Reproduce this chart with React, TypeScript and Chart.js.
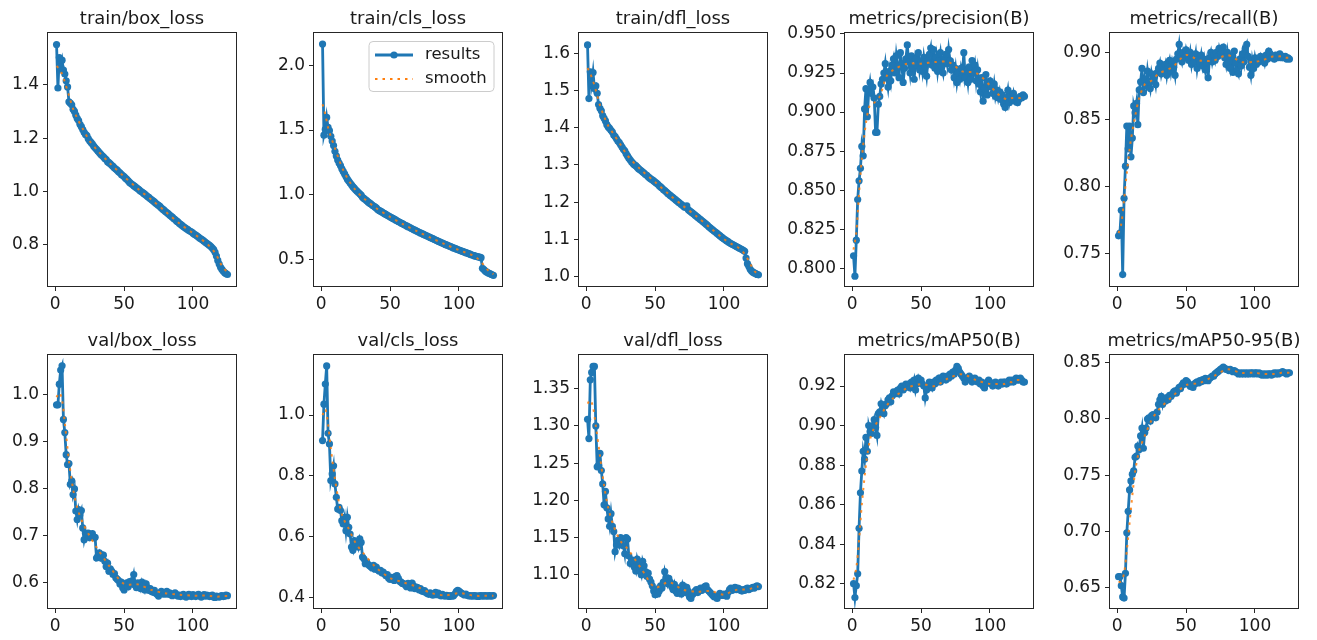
import React, { useEffect, useRef } from "react";
import { Chart, registerables } from "chart.js";

Chart.register(...registerables);

// ---------------- data ----------------
const X_TICKS = [0, 50, 100];
const LEGEND_LABELS = ["results", "smooth"];

const TRAIN_BOX_LOSS = [
  1.551, 1.388, 1.502, 1.468, 1.492, 1.455, 1.44, 1.415, 1.392, 1.336,
  1.331, 1.325, 1.308, 1.3, 1.286, 1.274, 1.266, 1.252, 1.243, 1.232,
  1.222, 1.214, 1.21, 1.198, 1.19, 1.184, 1.178, 1.17, 1.164, 1.158,
  1.152, 1.146, 1.14, 1.135, 1.13, 1.124, 1.12, 1.112, 1.108, 1.104,
  1.098, 1.094, 1.088, 1.084, 1.08, 1.074, 1.07, 1.064, 1.06, 1.056,
  1.05, 1.046, 1.04, 1.034, 1.03, 1.026, 1.022, 1.018, 1.014, 1.01,
  1.006, 1.001, 0.998, 0.994, 0.99, 0.986, 0.981, 0.978, 0.973, 0.969,
  0.965, 0.961, 0.956, 0.952, 0.948, 0.944, 0.938, 0.934, 0.93, 0.925,
  0.921, 0.917, 0.912, 0.908, 0.904, 0.899, 0.895, 0.89, 0.886, 0.881,
  0.877, 0.873, 0.869, 0.865, 0.861, 0.858, 0.854, 0.851, 0.848, 0.844,
  0.84, 0.837, 0.833, 0.829, 0.825, 0.822, 0.818, 0.814, 0.81, 0.806,
  0.802, 0.798, 0.794, 0.788, 0.782, 0.772, 0.758, 0.742, 0.728, 0.716,
  0.708, 0.701, 0.696, 0.692, 0.689,
];

const TRAIN_CLS_LOSS = [
  2.165, 1.46, 1.505, 1.598, 1.52, 1.495, 1.452, 1.415, 1.38, 1.335,
  1.3, 1.268, 1.245, 1.225, 1.2, 1.18, 1.16, 1.14, 1.12, 1.105,
  1.09, 1.076, 1.062, 1.05, 1.038, 1.027, 1.016, 1.006, 0.996, 0.98,
  0.971, 0.962, 0.953, 0.944, 0.936, 0.928, 0.92, 0.912, 0.905, 0.897,
  0.885, 0.878, 0.872, 0.866, 0.859, 0.853, 0.847, 0.84, 0.834, 0.828,
  0.822, 0.816, 0.81, 0.804, 0.798, 0.792, 0.786, 0.78, 0.775, 0.769,
  0.763, 0.758, 0.752, 0.747, 0.741, 0.736, 0.73, 0.725, 0.72, 0.714,
  0.709, 0.704, 0.699, 0.694, 0.689, 0.684, 0.679, 0.674, 0.669, 0.664,
  0.659, 0.654, 0.649, 0.644, 0.639, 0.634, 0.629, 0.625, 0.62, 0.615,
  0.611, 0.606, 0.602, 0.597, 0.593, 0.588, 0.584, 0.58, 0.575, 0.571,
  0.567, 0.563, 0.559, 0.555, 0.551, 0.547, 0.543, 0.539, 0.535, 0.531,
  0.528, 0.524, 0.521, 0.518, 0.516, 0.512, 0.43, 0.42, 0.41, 0.402,
  0.395, 0.39, 0.385, 0.38, 0.376,
];

const TRAIN_DFL_LOSS = [
  1.622, 1.478, 1.55, 1.518, 1.548, 1.505, 1.512, 1.492, 1.462, 1.452,
  1.445, 1.432, 1.425, 1.418, 1.408, 1.402, 1.398, 1.393, 1.388, 1.38,
  1.376, 1.37, 1.364, 1.36, 1.354, 1.348, 1.342, 1.338, 1.33, 1.324,
  1.318, 1.313, 1.308, 1.304, 1.3, 1.298, 1.294, 1.29, 1.287, 1.284,
  1.281, 1.278, 1.274, 1.272, 1.268, 1.265, 1.262, 1.26, 1.257, 1.254,
  1.251, 1.248, 1.244, 1.241, 1.238, 1.234, 1.231, 1.228, 1.224, 1.221,
  1.218, 1.215, 1.212, 1.209, 1.206, 1.203, 1.2, 1.197, 1.194, 1.191,
  1.188, 1.186, 1.19, 1.18, 1.177, 1.174, 1.171, 1.168, 1.165, 1.162,
  1.159, 1.156, 1.153, 1.15, 1.147, 1.144, 1.141, 1.138, 1.134, 1.131,
  1.128, 1.125, 1.122, 1.119, 1.116, 1.113, 1.11, 1.107, 1.104, 1.101,
  1.099, 1.096, 1.094, 1.091, 1.089, 1.087, 1.085, 1.083, 1.081, 1.079,
  1.077, 1.075, 1.073, 1.071, 1.068, 1.05, 1.035, 1.028, 1.02, 1.015,
  1.012, 1.01, 1.008, 1.006, 1.005,
];

const PRECISION = [
  0.808, 0.795, 0.818, 0.844, 0.856, 0.864, 0.878, 0.872, 0.902, 0.915,
  0.897, 0.913, 0.919, 0.912, 0.916, 0.909, 0.887, 0.887, 0.905, 0.91,
  0.918, 0.921, 0.925, 0.931, 0.922, 0.916, 0.926, 0.92, 0.93, 0.934,
  0.925, 0.936, 0.929, 0.922, 0.938, 0.931, 0.919, 0.928, 0.934, 0.943,
  0.932, 0.925, 0.936, 0.928, 0.921, 0.934, 0.93, 0.938, 0.927, 0.932,
  0.926, 0.935, 0.929, 0.923, 0.933, 0.937, 0.941, 0.93, 0.94, 0.928,
  0.935, 0.926, 0.933, 0.938, 0.929, 0.925, 0.934, 0.937, 0.931, 0.94,
  0.933, 0.927, 0.93, 0.922, 0.928, 0.919, 0.925, 0.921, 0.928, 0.924,
  0.938, 0.922, 0.926, 0.919, 0.929, 0.921, 0.933, 0.925, 0.93, 0.92,
  0.927, 0.918, 0.913, 0.922, 0.907, 0.915, 0.924, 0.911, 0.918, 0.92,
  0.916, 0.912, 0.918, 0.91, 0.914, 0.909, 0.913, 0.908, 0.911, 0.905,
  0.903, 0.909, 0.914, 0.906, 0.91, 0.908, 0.912, 0.907, 0.909, 0.906,
  0.908, 0.91, 0.909, 0.911, 0.91,
];

const RECALL = [
  0.763, 0.765, 0.782, 0.734, 0.791, 0.815, 0.845, 0.828, 0.845, 0.822,
  0.836, 0.86, 0.855, 0.862, 0.846, 0.872, 0.878, 0.888, 0.87, 0.88,
  0.875, 0.886, 0.878, 0.873, 0.884, 0.879, 0.882, 0.876, 0.885, 0.888,
  0.892, 0.884, 0.889, 0.887, 0.891, 0.883, 0.89, 0.894, 0.886, 0.893,
  0.889, 0.883, 0.895, 0.899, 0.906, 0.897, 0.893, 0.9, 0.896, 0.902,
  0.898, 0.894, 0.9, 0.891, 0.897, 0.893, 0.899, 0.888, 0.895, 0.892,
  0.898, 0.89, 0.895, 0.887, 0.893, 0.881, 0.896, 0.9, 0.893, 0.898,
  0.894, 0.9, 0.897, 0.903, 0.899, 0.902, 0.904, 0.896, 0.891, 0.9,
  0.893, 0.888, 0.897, 0.885, 0.901, 0.892, 0.887, 0.884, 0.895, 0.89,
  0.899, 0.893, 0.903, 0.906, 0.897, 0.889, 0.883, 0.894, 0.888, 0.896,
  0.891, 0.895, 0.893, 0.897, 0.894, 0.896, 0.892, 0.898, 0.895, 0.901,
  0.899, 0.896, 0.897, 0.895, 0.898, 0.896, 0.897, 0.899, 0.896, 0.897,
  0.896, 0.897, 0.895, 0.896, 0.895,
];

const VAL_BOX_LOSS = [
  0.979, 0.979, 1.023, 1.053, 1.062, 0.948, 0.92, 0.873, 0.852, 0.854,
  0.81, 0.817, 0.788, 0.8, 0.753, 0.735, 0.756, 0.745, 0.754, 0.717,
  0.692, 0.706, 0.703, 0.706, 0.696, 0.7, 0.705, 0.696, 0.697, 0.653,
  0.657, 0.664, 0.653, 0.66, 0.659, 0.646, 0.635, 0.642, 0.625, 0.63,
  0.625, 0.618, 0.62, 0.611, 0.608, 0.605, 0.598, 0.602, 0.59, 0.585,
  0.596, 0.6, 0.592, 0.603, 0.598, 0.605, 0.618, 0.595, 0.59, 0.6,
  0.596, 0.588, 0.602, 0.594, 0.585, 0.598, 0.59, 0.584, 0.588, 0.582,
  0.58, 0.584, 0.578, 0.576, 0.572, 0.578, 0.582, 0.58, 0.576, 0.578,
  0.582, 0.576, 0.579, 0.575, 0.573, 0.577, 0.579, 0.575, 0.572, 0.574,
  0.571, 0.573, 0.576, 0.572, 0.57, 0.574, 0.576, 0.572, 0.571, 0.575,
  0.573, 0.571, 0.574, 0.576, 0.572, 0.57, 0.573, 0.575, 0.572, 0.574,
  0.573, 0.571, 0.572, 0.574, 0.57, 0.569, 0.572, 0.571, 0.57, 0.572,
  0.573, 0.571, 0.572, 0.574, 0.573,
];

const VAL_CLS_LOSS = [
  0.916, 1.036, 1.102, 1.162, 0.94, 0.905, 0.784, 0.806, 0.833, 0.773,
  0.729, 0.69, 0.696, 0.685, 0.652, 0.641, 0.663, 0.619, 0.663, 0.63,
  0.608, 0.565, 0.554, 0.586, 0.575, 0.58, 0.565, 0.592, 0.58, 0.532,
  0.526, 0.51, 0.515, 0.508, 0.504, 0.5, 0.496, 0.505, 0.492, 0.499,
  0.49, 0.486, 0.488, 0.48, 0.482, 0.476, 0.47, 0.474, 0.462, 0.458,
  0.465, 0.46, 0.455, 0.468, 0.471, 0.462, 0.452, 0.449, 0.445, 0.444,
  0.44, 0.434, 0.445, 0.438, 0.43, 0.446, 0.437, 0.428, 0.433, 0.431,
  0.424, 0.428, 0.42, 0.418, 0.421, 0.415, 0.412, 0.409, 0.414, 0.41,
  0.406, 0.411, 0.416, 0.408, 0.413, 0.407, 0.404, 0.409, 0.405, 0.403,
  0.406, 0.404, 0.402, 0.405, 0.403, 0.404, 0.41, 0.418, 0.422, 0.42,
  0.416, 0.412, 0.409, 0.407, 0.41, 0.406, 0.404, 0.405, 0.403, 0.404,
  0.405, 0.403, 0.404, 0.402, 0.404, 0.405, 0.403, 0.404, 0.405, 0.403,
  0.404, 0.405, 0.403, 0.404, 0.405,
];

const VAL_DFL_LOSS = [
  1.309, 1.283, 1.362, 1.372, 1.38, 1.38, 1.3, 1.245, 1.247, 1.263,
  1.24, 1.222, 1.194, 1.212, 1.19, 1.175, 1.165, 1.182, 1.165, 1.158,
  1.131, 1.14, 1.146, 1.14, 1.15, 1.148, 1.139, 1.128, 1.15, 1.148,
  1.125, 1.115, 1.12, 1.118, 1.11, 1.105, 1.121, 1.114, 1.106, 1.1,
  1.118, 1.112, 1.104, 1.098, 1.102, 1.094, 1.09, 1.085, 1.078, 1.073,
  1.08, 1.074, 1.078, 1.085, 1.082, 1.09, 1.104, 1.096, 1.088, 1.095,
  1.09, 1.084, 1.08, 1.087, 1.078, 1.075, 1.082, 1.078, 1.074, 1.086,
  1.08, 1.076, 1.083, 1.078, 1.07, 1.068, 1.073, 1.075, 1.078, 1.08,
  1.076, 1.078, 1.082, 1.079, 1.081, 1.084, 1.085, 1.08, 1.078, 1.076,
  1.074, 1.072, 1.07, 1.071, 1.068, 1.072, 1.075, 1.073, 1.072, 1.074,
  1.073, 1.071, 1.076, 1.08, 1.082, 1.079, 1.081, 1.083, 1.08, 1.082,
  1.081, 1.079, 1.078, 1.08, 1.079, 1.081, 1.082, 1.08, 1.081, 1.082,
  1.083, 1.082, 1.084, 1.085, 1.084,
];

const MAP50 = [
  0.82, 0.813, 0.819, 0.825, 0.848, 0.866, 0.877, 0.887, 0.883, 0.894,
  0.887, 0.9, 0.897, 0.896, 0.9, 0.903, 0.899, 0.895, 0.906, 0.907,
  0.911, 0.908, 0.906, 0.91, 0.911, 0.913, 0.914, 0.912, 0.915, 0.917,
  0.916, 0.917, 0.918, 0.916, 0.919, 0.92, 0.918, 0.919, 0.921, 0.92,
  0.921, 0.919, 0.922, 0.92, 0.923, 0.918, 0.921, 0.924, 0.922, 0.923,
  0.921, 0.92, 0.914, 0.918, 0.92, 0.922, 0.921, 0.919, 0.922, 0.921,
  0.923, 0.922, 0.924, 0.922, 0.923, 0.925, 0.924, 0.923, 0.925, 0.924,
  0.926, 0.925, 0.927, 0.926, 0.928, 0.93, 0.929, 0.927, 0.926, 0.925,
  0.924, 0.922, 0.923, 0.924, 0.925, 0.924, 0.922, 0.923, 0.924, 0.923,
  0.922, 0.923, 0.921, 0.922, 0.92, 0.919, 0.921, 0.922, 0.923, 0.922,
  0.921, 0.92, 0.921, 0.922, 0.921, 0.92, 0.921, 0.922, 0.921, 0.922,
  0.922, 0.921, 0.922, 0.923, 0.922, 0.923, 0.922, 0.923, 0.924, 0.923,
  0.923, 0.924, 0.923, 0.922, 0.922,
];

const MAP50_95 = [
  0.66, 0.66, 0.652, 0.642, 0.641, 0.663, 0.699, 0.718, 0.737, 0.745,
  0.751, 0.754, 0.766, 0.767, 0.776, 0.773, 0.785, 0.792, 0.774, 0.788,
  0.792, 0.8, 0.801, 0.798, 0.803, 0.804, 0.802, 0.801, 0.806, 0.813,
  0.817, 0.82, 0.813, 0.818, 0.816, 0.819, 0.817, 0.821, 0.82, 0.822,
  0.824, 0.825, 0.823, 0.826, 0.828, 0.827, 0.83, 0.832, 0.831, 0.834,
  0.833, 0.831, 0.829, 0.83, 0.828, 0.831, 0.832, 0.833, 0.832, 0.834,
  0.833, 0.835, 0.834, 0.836, 0.835, 0.834, 0.836, 0.837, 0.838, 0.838,
  0.84, 0.841, 0.842, 0.843, 0.844, 0.845, 0.846, 0.845, 0.844, 0.844,
  0.843, 0.844, 0.843, 0.842, 0.843, 0.842, 0.841, 0.84, 0.841, 0.84,
  0.841, 0.84, 0.841, 0.84, 0.841, 0.84, 0.841, 0.841, 0.84, 0.841,
  0.841, 0.84, 0.841, 0.84, 0.839, 0.84, 0.839, 0.84, 0.839, 0.84,
  0.84, 0.839, 0.84, 0.841, 0.84, 0.841, 0.84, 0.841, 0.841, 0.842,
  0.841, 0.841, 0.84, 0.841, 0.841,
];

// smoothed curve, read at these epochs
const SMOOTH_EPOCHS = [1, 3, 5, 7, 10, 13, 16, 20, 25, 30, 40, 50, 60, 70, 80, 90, 100, 105, 110, 113, 116, 119, 122, 125];
const TRAIN_BOX_SMOOTH = [1.47, 1.46, 1.44, 1.41, 1.36, 1.31, 1.275, 1.235, 1.19, 1.158, 1.104, 1.056, 1.01, 0.969, 0.925, 0.881, 0.844, 0.825, 0.805, 0.79, 0.77, 0.742, 0.712, 0.7];
const TRAIN_CLS_SMOOTH = [1.7, 1.62, 1.52, 1.45, 1.36, 1.27, 1.19, 1.11, 1.035, 0.98, 0.895, 0.828, 0.768, 0.714, 0.664, 0.615, 0.571, 0.551, 0.53, 0.51, 0.48, 0.44, 0.405, 0.385];
const TRAIN_DFL_SMOOTH = [1.56, 1.545, 1.525, 1.5, 1.46, 1.43, 1.405, 1.382, 1.354, 1.325, 1.286, 1.254, 1.221, 1.191, 1.162, 1.131, 1.101, 1.089, 1.079, 1.07, 1.055, 1.035, 1.015, 1.008];
const PRECISION_SMOOTH = [0.812, 0.823, 0.848, 0.87, 0.893, 0.905, 0.906, 0.91, 0.923, 0.927, 0.931, 0.931, 0.932, 0.932, 0.926, 0.925, 0.917, 0.912, 0.909, 0.908, 0.909, 0.909, 0.909, 0.91];
const RECALL_SMOOTH = [0.765, 0.772, 0.79, 0.81, 0.835, 0.852, 0.866, 0.876, 0.879, 0.884, 0.889, 0.898, 0.894, 0.894, 0.898, 0.893, 0.893, 0.894, 0.896, 0.897, 0.897, 0.897, 0.896, 0.896];
const VAL_BOX_SMOOTH = [0.995, 1.005, 0.99, 0.94, 0.86, 0.8, 0.76, 0.728, 0.7, 0.676, 0.633, 0.598, 0.597, 0.585, 0.578, 0.575, 0.573, 0.573, 0.573, 0.572, 0.571, 0.571, 0.572, 0.572];
const VAL_CLS_SMOOTH = [1.0, 1.02, 0.97, 0.89, 0.79, 0.71, 0.66, 0.625, 0.578, 0.548, 0.497, 0.463, 0.448, 0.433, 0.413, 0.406, 0.413, 0.41, 0.405, 0.404, 0.404, 0.404, 0.404, 0.404];
const VAL_DFL_SMOOTH = [1.33, 1.335, 1.325, 1.3, 1.26, 1.22, 1.19, 1.165, 1.145, 1.135, 1.108, 1.083, 1.09, 1.08, 1.077, 1.078, 1.073, 1.077, 1.08, 1.08, 1.08, 1.081, 1.083, 1.084];
const MAP50_SMOOTH = [0.822, 0.828, 0.842, 0.86, 0.88, 0.893, 0.899, 0.904, 0.91, 0.914, 0.919, 0.921, 0.92, 0.924, 0.926, 0.923, 0.921, 0.921, 0.921, 0.922, 0.922, 0.923, 0.923, 0.923];
const MAP50_95_SMOOTH = [0.655, 0.656, 0.663, 0.683, 0.72, 0.753, 0.772, 0.785, 0.799, 0.808, 0.82, 0.83, 0.832, 0.838, 0.844, 0.841, 0.841, 0.84, 0.84, 0.84, 0.84, 0.841, 0.841, 0.841];

// y-axis tick labels
const Y_TICKS_TRAIN_BOX = [0.8, 1.0, 1.2, 1.4];
const Y_TICKS_TRAIN_CLS = [0.5, 1.0, 1.5, 2.0];
const Y_TICKS_TRAIN_DFL = [1.0, 1.1, 1.2, 1.3, 1.4, 1.5, 1.6];
const Y_TICKS_PRECISION = [0.8, 0.825, 0.85, 0.875, 0.9, 0.925, 0.95];
const Y_TICKS_RECALL = [0.75, 0.8, 0.85, 0.9];
const Y_TICKS_VAL_BOX = [0.6, 0.7, 0.8, 0.9, 1.0];
const Y_TICKS_VAL_CLS = [0.4, 0.6, 0.8, 1.0];
const Y_TICKS_VAL_DFL = [1.1, 1.15, 1.2, 1.25, 1.3, 1.35];
const Y_TICKS_MAP50 = [0.82, 0.84, 0.86, 0.88, 0.9, 0.92];
const Y_TICKS_MAP50_95 = [0.65, 0.7, 0.75, 0.8, 0.85];

const PANELS = [
  { title: "train/box_loss", results: TRAIN_BOX_LOSS, smooth: TRAIN_BOX_SMOOTH, yMin: 0.646, yMax: 1.594, yTicks: Y_TICKS_TRAIN_BOX, dec: 1 },
  { title: "train/cls_loss", results: TRAIN_CLS_LOSS, smooth: TRAIN_CLS_SMOOTH, yMin: 0.293, yMax: 2.251, yTicks: Y_TICKS_TRAIN_CLS, dec: 1 },
  { title: "train/dfl_loss", results: TRAIN_DFL_LOSS, smooth: TRAIN_DFL_SMOOTH, yMin: 0.975, yMax: 1.654, yTicks: Y_TICKS_TRAIN_DFL, dec: 1 },
  { title: "metrics/precision(B)", results: PRECISION, smooth: PRECISION_SMOOTH, yMin: 0.7887, yMax: 0.9506, yTicks: Y_TICKS_PRECISION, dec: 3 },
  { title: "metrics/recall(B)", results: RECALL, smooth: RECALL_SMOOTH, yMin: 0.7255, yMax: 0.9145, yTicks: Y_TICKS_RECALL, dec: 2 },
  { title: "val/box_loss", results: VAL_BOX_LOSS, smooth: VAL_BOX_SMOOTH, yMin: 0.5467, yMax: 1.085, yTicks: Y_TICKS_VAL_BOX, dec: 1 },
  { title: "val/cls_loss", results: VAL_CLS_LOSS, smooth: VAL_CLS_SMOOTH, yMin: 0.364, yMax: 1.198, yTicks: Y_TICKS_VAL_CLS, dec: 1 },
  { title: "val/dfl_loss", results: VAL_DFL_LOSS, smooth: VAL_DFL_SMOOTH, yMin: 1.0552, yMax: 1.3954, yTicks: Y_TICKS_VAL_DFL, dec: 2 },
  { title: "metrics/mAP50(B)", results: MAP50, smooth: MAP50_SMOOTH, yMin: 0.8077, yMax: 0.9357, yTicks: Y_TICKS_MAP50, dec: 2 },
  { title: "metrics/mAP50-95(B)", results: MAP50_95, smooth: MAP50_95_SMOOTH, yMin: 0.6322, yMax: 0.8568, yTicks: Y_TICKS_MAP50_95, dec: 2 },
];

// ---------------- layout & style ----------------
const PLOT_LEFTS = [48, 314, 579, 845, 1110];
const PLOT_TOPS = [33, 355];
const PLOT_W = 188;
const PLOT_H = 253;
const Y_AXIS_W = 60;
const X_AXIS_H = 30;
const TOP_PAD = 33;
const RIGHT_PAD = 12;
const X_MIN = -5.2;
const X_MAX = 131.2;

const BLUE = "#1f77b4";
const ORANGE = "#ff7f0e";
const INK = "#262626";
const FONT = "'DejaVu Sans', 'Liberation Sans', sans-serif";

const framePlugin = {
  id: "frameBox",
  afterDatasetsDraw(chart: any) {
    const { ctx, chartArea: a } = chart;
    ctx.save();
    ctx.strokeStyle = INK;
    ctx.lineWidth = 1;
    ctx.strokeRect(a.left - 0.5, a.top - 0.5, a.right - a.left + 1, a.bottom - a.top + 1);
    ctx.restore();
  },
};

function titlePlugin(title: string) {
  return {
    id: "panelTitle",
    afterDraw(chart: any) {
      const { ctx, chartArea: a } = chart;
      ctx.save();
      ctx.font = `18px ${FONT}`;
      ctx.fillStyle = "#1a1a1a";
      ctx.textAlign = "center";
      ctx.textBaseline = "alphabetic";
      ctx.fillText(title, (a.left + a.right) / 2, a.top - 9);
      ctx.restore();
    },
  };
}

const legendPlugin = {
  id: "legendBox",
  afterDraw(chart: any) {
    const { ctx, chartArea: a } = chart;
    const right = a.right - 8;
    const left = right - 125;
    const top = a.top + 8.5;
    const bottom = a.top + 58.5;
    const r = 4;
    ctx.save();
    ctx.beginPath();
    ctx.moveTo(left + r, top);
    ctx.arcTo(right, top, right, bottom, r);
    ctx.arcTo(right, bottom, left, bottom, r);
    ctx.arcTo(left, bottom, left, top, r);
    ctx.arcTo(left, top, right, top, r);
    ctx.closePath();
    ctx.fillStyle = "rgba(255,255,255,0.85)";
    ctx.fill();
    ctx.strokeStyle = "#cccccc";
    ctx.lineWidth = 1;
    ctx.stroke();

    const hx0 = left + 6;
    const hx1 = left + 44;
    const y1 = a.top + 22;
    const y2 = a.top + 46;
    ctx.strokeStyle = BLUE;
    ctx.lineWidth = 2.8;
    ctx.beginPath();
    ctx.moveTo(hx0, y1);
    ctx.lineTo(hx1, y1);
    ctx.stroke();
    ctx.fillStyle = BLUE;
    ctx.beginPath();
    ctx.arc((hx0 + hx1) / 2, y1, 3.6, 0, Math.PI * 2);
    ctx.fill();

    ctx.strokeStyle = ORANGE;
    ctx.lineWidth = 2.2;
    ctx.setLineDash([2.5, 5]);
    ctx.beginPath();
    ctx.moveTo(hx0, y2);
    ctx.lineTo(hx1, y2);
    ctx.stroke();
    ctx.setLineDash([]);

    ctx.font = `16.5px ${FONT}`;
    ctx.fillStyle = "#1a1a1a";
    ctx.textAlign = "left";
    ctx.textBaseline = "middle";
    ctx.fillText(LEGEND_LABELS[0], left + 56, y1);
    ctx.fillText(LEGEND_LABELS[1], left + 56, y2);
    ctx.restore();
  },
};

type PanelDef = (typeof PANELS)[number];

function Panel({ panel, left, top, withLegend }: { panel: PanelDef; left: number; top: number; withLegend: boolean }) {
  const ref = useRef<HTMLCanvasElement | null>(null);
  useEffect(() => {
    if (!ref.current) return;
    const plugins: any[] = [framePlugin, titlePlugin(panel.title)];
    if (withLegend) plugins.push(legendPlugin);
    const tickFont = { family: FONT, size: 17 };
    const chart = new Chart(ref.current, {
      type: "line",
      data: {
        datasets: [
          {
            label: LEGEND_LABELS[0],
            data: panel.results.map((v, i) => ({ x: i + 1, y: v })),
            borderColor: BLUE,
            backgroundColor: BLUE,
            borderWidth: 2.8,
            pointRadius: 3.6,
            pointBorderWidth: 0,
            pointBackgroundColor: BLUE,
            pointHoverRadius: 3.6,
            tension: 0,
            order: 1,
          },
          {
            label: LEGEND_LABELS[1],
            data: panel.smooth.map((v, i) => ({ x: SMOOTH_EPOCHS[i], y: v })),
            borderColor: "rgba(255,127,14,0.85)",
            borderWidth: 2,
            borderDash: [2.5, 5],
            pointRadius: 0,
            tension: 0.3,
            order: 0,
          },
        ],
      },
      options: {
        animation: false,
        responsive: true,
        maintainAspectRatio: false,
        events: [],
        layout: { padding: { top: TOP_PAD, right: RIGHT_PAD, left: 0, bottom: 0 } },
        plugins: { legend: { display: false }, tooltip: { enabled: false }, title: { display: false } },
        scales: {
          x: {
            type: "linear",
            min: X_MIN,
            max: X_MAX,
            afterBuildTicks: (s: any) => {
              s.ticks = X_TICKS.map((v) => ({ value: v }));
            },
            afterFit: (s: any) => {
              s.height = X_AXIS_H;
            },
            ticks: {
              autoSkip: false,
              maxRotation: 0,
              font: tickFont,
              color: "#1a1a1a",
              padding: 3,
              callback: (v: any) => String(v),
            },
            grid: { drawOnChartArea: false, drawTicks: true, tickLength: 5, color: INK, lineWidth: 1 },
            border: { display: false },
          },
          y: {
            type: "linear",
            min: panel.yMin,
            max: panel.yMax,
            afterBuildTicks: (s: any) => {
              s.ticks = panel.yTicks.map((v) => ({ value: v }));
            },
            afterFit: (s: any) => {
              s.width = Y_AXIS_W;
            },
            ticks: {
              autoSkip: false,
              font: tickFont,
              color: "#1a1a1a",
              padding: 4,
              callback: (v: any) => Number(v).toFixed(panel.dec),
            },
            grid: { drawOnChartArea: false, drawTicks: true, tickLength: 5, color: INK, lineWidth: 1 },
            border: { display: false },
          },
        },
      },
      plugins,
    } as any);
    return () => chart.destroy();
  }, [panel, withLegend]);

  return (
    <div
      style={{
        position: "absolute",
        left: left - Y_AXIS_W,
        top: top - TOP_PAD,
        width: Y_AXIS_W + PLOT_W + RIGHT_PAD,
        height: TOP_PAD + PLOT_H + X_AXIS_H,
      }}
    >
      <canvas ref={ref} />
    </div>
  );
}

export default function App() {
  return (
    <div
      style={{
        position: "fixed",
        left: 0,
        top: 0,
        width: "100vw",
        height: "100vh",
        overflow: "hidden",
        background: "#ffffff",
      }}
    >
      {PANELS.map((p, i) => (
        <Panel
          key={p.title}
          panel={p}
          left={PLOT_LEFTS[i % 5]}
          top={PLOT_TOPS[Math.floor(i / 5)]}
          withLegend={i === 1}
        />
      ))}
    </div>
  );
}
